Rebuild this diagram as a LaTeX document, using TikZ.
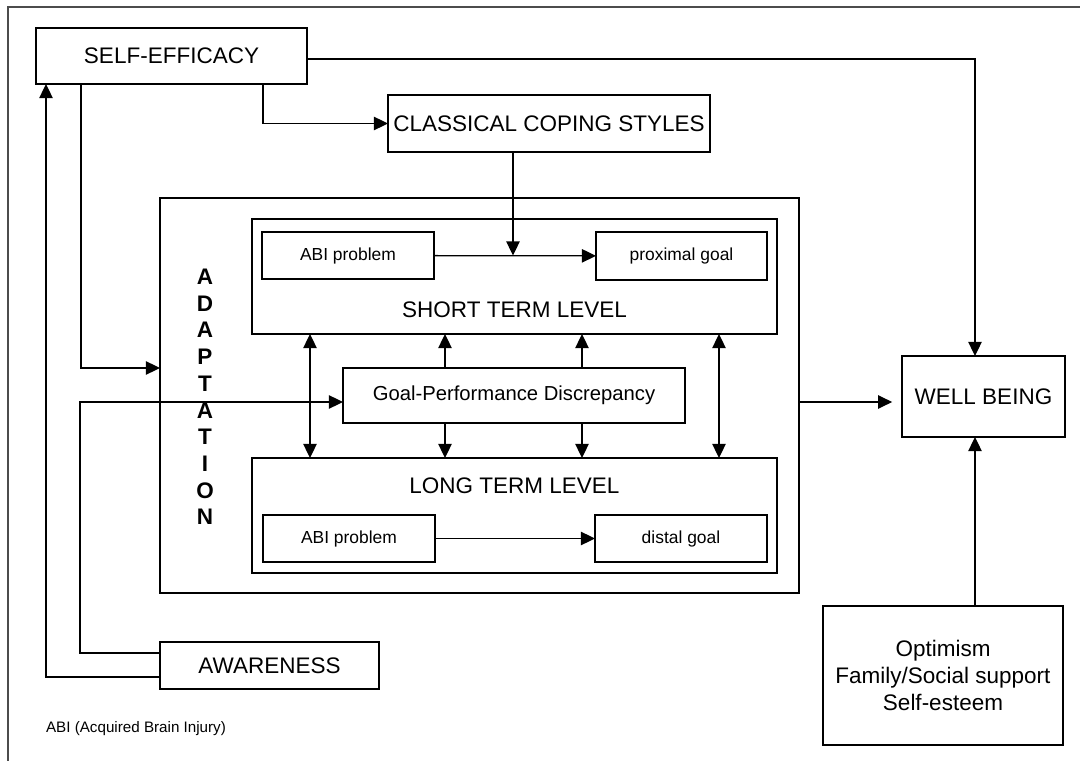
\documentclass[tikz,border=0pt]{standalone}
\usepackage{fontspec}
\setmainfont{Liberation Sans}
\usetikzlibrary{arrows.meta}

\begin{document}
\begin{tikzpicture}[x=0.025cm, y=-0.025cm, line width=0.9pt,
		box/.style={draw, inner sep=0pt, outer sep=0pt},
		arr/.style={-{Triangle[length=10pt, width=9.5pt]}},
		both/.style={{Triangle[length=10pt, width=9.5pt]}-{Triangle[length=10pt, width=9.5pt]}},
		big/.style={font=\fontsize{16}{19}\selectfont},
		mid/.style={font=\fontsize{14.4}{17}\selectfont},
		small/.style={font=\fontsize{12.4}{15}\selectfont}]

		\def\px{0.025cm}

		\useasboundingbox (0,0) rectangle (1080,761);
		\draw[black!70] (1080,7) -- (8,7) -- (8,761);

		\node[box, big, minimum width=271*\px, minimum height=56*\px] (se) at (171.5,56) {SELF-EFFICACY};
		\node[box, big, minimum width=322*\px, minimum height=57*\px] (ccs) at (549,123.5) {CLASSICAL COPING STYLES};

		\node[box, minimum width=639*\px, minimum height=395*\px] (adapt) at (479.5,395.5) {};
		\node[font=\bfseries\fontsize{16}{19}\selectfont, align=center] (adtext) at (205,397) {A\\D\\A\\P\\T\\A\\T\\I\\O\\N};

		\node[box, minimum width=525*\px, minimum height=115*\px] (st) at (514.5,276.5) {};
		\node[big] (sttext) at (514.5,310) {SHORT TERM LEVEL};
		\node[box, small, minimum width=172*\px, minimum height=47*\px] (abis) at (348,255.5) {ABI problem};
		\node[box, small, minimum width=171*\px, minimum height=48*\px] (prox) at (681.5,256) {proximal goal};

		\node[box, mid, minimum width=342*\px, minimum height=55*\px] (gpd) at (514,395.5) {Goal-Performance Discrepancy};

		\node[box, minimum width=525*\px, minimum height=115*\px] (lt) at (514.5,515.5) {};
		\node[big] (lttext) at (514.5,486) {LONG TERM LEVEL};
		\node[box, small, minimum width=172*\px, minimum height=47*\px] (abil) at (349,538.5) {ABI problem};
		\node[box, small, minimum width=172*\px, minimum height=47*\px] (dist) at (681,538.5) {distal goal};

		\node[box, big, minimum width=163*\px, minimum height=81*\px] (wb) at (983.5,396.5) {WELL BEING};
		\node[box, big, align=center, minimum width=240*\px, minimum height=139*\px] (opt) at (943,675.5) {Optimism\\Family/Social support\\Self-esteem};
		\node[box, big, minimum width=219*\px, minimum height=47*\px] (aw) at (269.5,665.5) {AWARENESS};

		\node[font=\fontsize{10.8}{13}\selectfont] (note) at (136,729) {ABI (Acquired Brain Injury)};

		\coordinate (r1) at (975,59);
		\coordinate (r2) at (263,124);
		\coordinate (r3) at (513,0);
		\coordinate (r4) at (81,368);
		\coordinate (r5) at (80,653);
		\coordinate (r6) at (46,677);
		\coordinate (r7) at (0,402);

		\draw[arr] (se.east |- r1) -| (wb.north -| r1);
		\draw[arr] (se.south -| r2) |- (ccs.west);
		\draw[arr] (ccs.south -| r3) -- (r3 |- abis.east);
		\draw[arr] (se.south -| r4) |- (adapt.west |- r4);
		\draw[arr] (aw.west |- r5) -| (r5 |- r7) -- (gpd.west |- r7);
		\draw[arr] (aw.west |- r6) -| (se.south -| r6);
		\draw[arr, shorten >=7pt] (adapt.east |- r7) -- (wb.west |- r7);
		\draw[arr] (opt.north -| r1) -- (wb.south -| r1);

		\draw[arr] (abis) -- (prox);
		\draw[arr] (abil.east |- dist.west) -- (dist.west);

		\foreach \x in {445,582} {
			\coordinate (c) at (\x,0);
			\draw[arr] (gpd.north -| c) -- (st.south -| c);
			\draw[arr] (gpd.south -| c) -- (lt.north -| c);
		}
		\foreach \x in {310,719} {
			\coordinate (c) at (\x,0);
			\draw[both] (st.south -| c) -- (lt.north -| c);
		}

	\end{tikzpicture}
\end{document}
